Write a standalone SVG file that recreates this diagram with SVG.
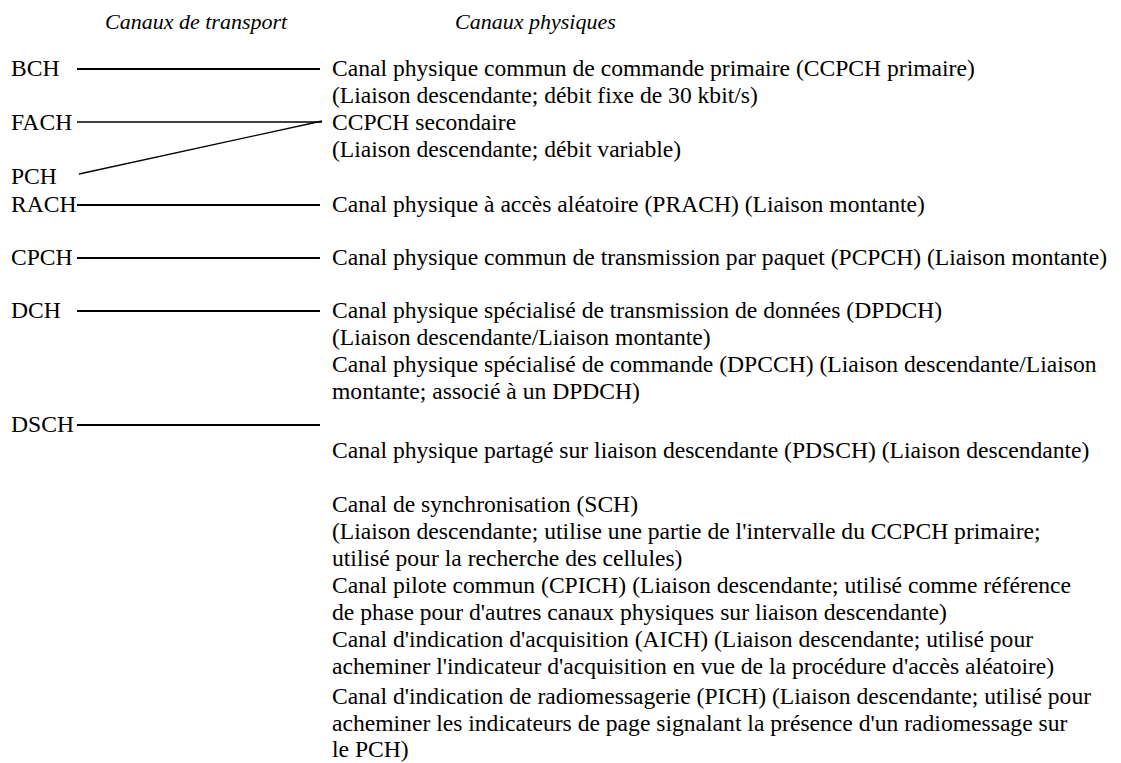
<svg xmlns="http://www.w3.org/2000/svg" width="1121" height="763" viewBox="0 0 1121 763">
  <style>
    text { font-size: 23.6px; fill: #000; }
    .hdr { font-style: italic; font-size: 22px; }
    .link { stroke: #000; stroke-width: 2; fill: none; }
    .thin { stroke-width: 1.3; }
  </style>
  <rect width="1121" height="763" fill="#fff"/>

  <g font-family="Liberation Serif">
    <!-- column headings -->
    <g id="headings">
      <text class="hdr" x="105" y="29">Canaux de transport</text>
      <text class="hdr" x="455" y="29">Canaux physiques</text>
    </g>

    <!-- transport channels -->
    <g id="tr-bch"><text x="11" y="76">BCH</text></g>
    <g id="tr-fach"><text x="11" y="130">FACH</text></g>
    <g id="tr-pch"><text x="11" y="184">PCH</text></g>
    <g id="tr-rach"><text x="11" y="212">RACH</text></g>
    <g id="tr-cpch"><text x="11" y="265">CPCH</text></g>
    <g id="tr-dch"><text x="11" y="318">DCH</text></g>
    <g id="tr-dsch"><text x="11" y="432">DSCH</text></g>

    <!-- physical channels -->
    <g id="ph-pccpch">
      <text x="332" y="76">Canal physique commun de commande primaire (CCPCH primaire)</text>
      <text x="332" y="103">(Liaison descendante; débit fixe de 30 kbit/s)</text>
    </g>
    <g id="ph-sccpch">
      <text x="332" y="130">CCPCH secondaire</text>
      <text x="332" y="157">(Liaison descendante; débit variable)</text>
    </g>
    <g id="ph-prach">
      <text x="332" y="212">Canal physique à accès aléatoire (PRACH) (Liaison montante)</text>
    </g>
    <g id="ph-pcpch">
      <text x="332" y="265">Canal physique commun de transmission par paquet (PCPCH) (Liaison montante)</text>
    </g>
    <g id="ph-dpdch">
      <text x="332" y="318">Canal physique spécialisé de transmission de données (DPDCH)</text>
      <text x="332" y="345">(Liaison descendante/Liaison montante)</text>
    </g>
    <g id="ph-dpcch">
      <text x="332" y="372">Canal physique spécialisé de commande (DPCCH) (Liaison descendante/Liaison</text>
      <text x="332" y="399">montante; associé à un DPDCH)</text>
    </g>
    <g id="ph-pdsch">
      <text x="332" y="458">Canal physique partagé sur liaison descendante (PDSCH) (Liaison descendante)</text>
    </g>
    <g id="ph-sch">
      <text x="332" y="512">Canal de synchronisation (SCH)</text>
      <text x="332" y="539">(Liaison descendante; utilise une partie de l'intervalle du CCPCH primaire;</text>
      <text x="332" y="566">utilisé pour la recherche des cellules)</text>
    </g>
    <g id="ph-cpich">
      <text x="332" y="593">Canal pilote commun (CPICH) (Liaison descendante; utilisé comme référence</text>
      <text x="332" y="620">de phase pour d'autres canaux physiques sur liaison descendante)</text>
    </g>
    <g id="ph-aich">
      <text x="332" y="647">Canal d'indication d'acquisition (AICH) (Liaison descendante; utilisé pour</text>
      <text x="332" y="674">acheminer l'indicateur d'acquisition en vue de la procédure d'accès aléatoire)</text>
    </g>
    <g id="ph-pich">
      <text x="332" y="704">Canal d'indication de radiomessagerie (PICH) (Liaison descendante; utilisé pour</text>
      <text x="332" y="731">acheminer les indicateurs de page signalant la présence d'un radiomessage sur</text>
      <text x="332" y="757">le PCH)</text>
    </g>
  </g>

  <!-- mapping lines between transport and physical channels -->
  <g id="connectors">
    <line class="link" x1="77" y1="69" x2="320" y2="69"/>
    <line class="link thin" x1="77" y1="122" x2="322" y2="122"/>
    <line class="link thin" x1="79" y1="174" x2="322" y2="121"/>
    <line class="link" x1="77" y1="205" x2="320" y2="205"/>
    <line class="link" x1="77" y1="258" x2="320" y2="258"/>
    <line class="link" x1="77" y1="311" x2="320" y2="311"/>
    <line class="link" x1="77" y1="425" x2="320" y2="425"/>
  </g>
</svg>
